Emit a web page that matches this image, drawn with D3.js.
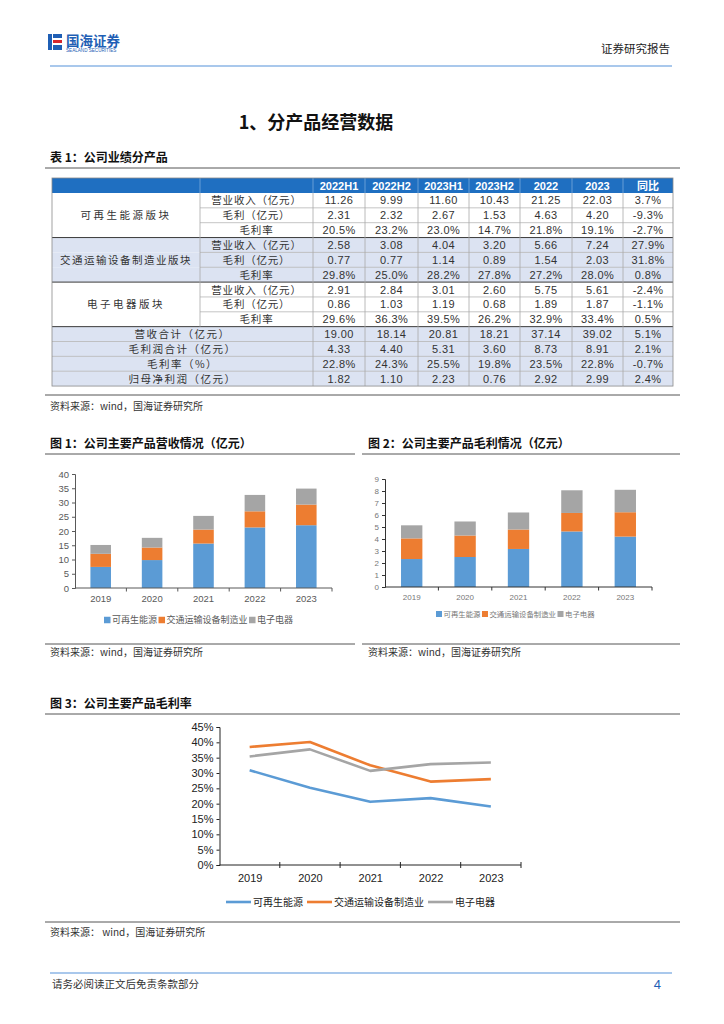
<!DOCTYPE html>
<html><head><meta charset="utf-8">
<script src="https://cdn.jsdelivr.net/npm/d3@7"></script>
<style>body{margin:0;background:#fff}svg{display:block}</style>
</head><body><svg id="c" width="724" height="1024"></svg>
<script>
// ---------------- DATA ----------------
const years = ["2019", "2020", "2021", "2022", "2023"];
const seriesNames = ["可再生能源", "交通运输设备制造业", "电子电器"];
const revRenew = [7.4, 9.8, 15.6, 21.25, 22.03];
const revTrans = [4.6, 4.4, 4.9, 5.66, 7.24];
const revElec = [3.1, 3.4, 4.8, 5.75, 5.61];
const gpRenew = [2.33, 2.50, 3.17, 4.63, 4.20];
const gpTrans = [1.72, 1.79, 1.62, 1.54, 2.03];
const gpElec = [1.09, 1.17, 1.42, 1.89, 1.87];
const gmRenew = [30.9, 25.2, 20.6, 21.8, 19.1];
const gmTrans = [38.5, 40.1, 32.5, 27.2, 28.0];
const gmElec = [35.4, 37.7, 30.7, 32.9, 33.4];
const revTicks = [0, 5, 10, 15, 20, 25, 30, 35, 40];
const gpTicks = [0, 1, 2, 3, 4, 5, 6, 7, 8, 9];
const gmTicks = [0, 5, 10, 15, 20, 25, 30, 35, 40, 45];

const tableCols = ["2022H1", "2022H2", "2023H1", "2023H2", "2022", "2023", "同比"];
const segmentNames = ["可再生能源版块", "交通运输设备制造业版块", "电子电器版块"];
const metricNames = ["营业收入（亿元）", "毛利（亿元）", "毛利率"];
const renewRows = [
  ["11.26", "9.99", "11.60", "10.43", "21.25", "22.03", "3.7%"],
  ["2.31", "2.32", "2.67", "1.53", "4.63", "4.20", "-9.3%"],
  ["20.5%", "23.2%", "23.0%", "14.7%", "21.8%", "19.1%", "-2.7%"]];
const transRows = [
  ["2.58", "3.08", "4.04", "3.20", "5.66", "7.24", "27.9%"],
  ["0.77", "0.77", "1.14", "0.89", "1.54", "2.03", "31.8%"],
  ["29.8%", "25.0%", "28.2%", "27.8%", "27.2%", "28.0%", "0.8%"]];
const elecRows = [
  ["2.91", "2.84", "3.01", "2.60", "5.75", "5.61", "-2.4%"],
  ["0.86", "1.03", "1.19", "0.68", "1.89", "1.87", "-1.1%"],
  ["29.6%", "36.3%", "39.5%", "26.2%", "32.9%", "33.4%", "0.5%"]];
const totalNames = ["营收合计（亿元）", "毛利润合计（亿元）", "毛利率（%）", "归母净利润（亿元）"];
const totalRows = [
  ["19.00", "18.14", "20.81", "18.21", "37.14", "39.02", "5.1%"],
  ["4.33", "4.40", "5.31", "3.60", "8.73", "8.91", "2.1%"],
  ["22.8%", "24.3%", "25.5%", "19.8%", "23.5%", "22.8%", "-0.7%"],
  ["1.82", "1.10", "2.23", "0.76", "2.92", "2.99", "2.4%"]];

// ---------------- STYLE ----------------
const CN = "'Noto Sans CJK SC','Noto Sans',sans-serif";
const LAT = "'Liberation Sans',Arial,sans-serif";
const colors = ["#5b9bd5", "#ed7d31", "#a5a5a5"];
const svg = d3.select("#c");
svg.append("rect").attr("width", 724).attr("height", 1024).attr("fill", "#fff");

function hline(x1, x2, y, color, w) {
  svg.append("line").attr("x1", x1).attr("x2", x2).attr("y1", y).attr("y2", y)
    .attr("stroke", color).attr("stroke-width", w);
}
function txt(x, y, s, size, opts = {}) {
  return svg.append("text").attr("x", x).attr("y", y).text(s)
    .attr("font-family", opts.font || CN).attr("font-size", size)
    .attr("font-weight", opts.bold ? "bold" : "normal")
    .attr("fill", opts.fill || "#222")
    .attr("text-anchor", opts.anchor || "start")
    .attr("letter-spacing", opts.ls || 0);
}

// ---------------- HEADER ----------------
const logo = svg.append("g");
logo.append("rect").attr("x", 48).attr("y", 34).attr("width", 4).attr("height", 16).attr("fill", "#1f5fb5");
logo.append("rect").attr("x", 53).attr("y", 34).attr("width", 9).attr("height", 4).attr("fill", "#1f5fb5");
logo.append("rect").attr("x", 53).attr("y", 40).attr("width", 9).attr("height", 3).attr("fill", "#d7262c");
logo.append("rect").attr("x", 53).attr("y", 45).attr("width", 9).attr("height", 5).attr("fill", "#1f5fb5");
txt(66, 46, "国海证券", 13.5, { bold: true, fill: "#1f5fb5" });
txt(66, 52, "SEALAND SECURITIES", 4.6, { font: LAT, fill: "#1f5fb5" });
txt(670, 53, "证券研究报告", 11.5, { anchor: "end", fill: "#222" });
hline(50, 672, 66, "#a9c8ec", 2);

txt(316, 129, "1、分产品经营数据", 18, { bold: true, anchor: "middle", fill: "#111" });

// ---------------- TABLE ----------------
txt(50, 162, "表 1：公司业绩分产品", 12, { bold: true, fill: "#111" });
hline(45, 680, 168, "#555", 1);

const colX = [52, 200, 313, 365, 418, 469, 520, 572, 623, 673];
const headTop = 178, top0 = 193, rowH = 14.85;
const light = "#dce3f2";
const tg = svg.append("g");
// header
tg.append("rect").attr("x", colX[0]).attr("y", headTop).attr("width", colX[9] - colX[0]).attr("height", top0 - headTop).attr("fill", "#1f6fc1");
tableCols.forEach((c, i) => {
  const cx = (colX[i + 2] + colX[i + 3]) / 2;
  tg.append("text").attr("x", cx).attr("y", top0 - 3.5).attr("text-anchor", "middle")
    .attr("font-family", i === 6 ? CN : LAT).attr("font-weight", "bold").attr("font-size", 11).attr("fill", "#fff").text(c);
});
for (let i = 1; i < 9; i++) {
  tg.append("line").attr("x1", colX[i]).attr("x2", colX[i]).attr("y1", headTop).attr("y2", top0).attr("stroke", "#7aa9dc").attr("stroke-width", 0.8);
}
const segRows = [renewRows, transRows, elecRows];
const allRows = [];
segRows.forEach((rows, s) => rows.forEach((vals, m) => allRows.push({ seg: s, metric: m, vals, fill: s === 1 ? light : "#fff" })));
totalRows.forEach((vals, t) => allRows.push({ total: t, vals, fill: light }));
allRows.forEach((r, i) => {
  const y = top0 + i * rowH;
  tg.append("rect").attr("x", colX[0]).attr("y", y).attr("width", colX[9] - colX[0]).attr("height", rowH).attr("fill", r.fill);
});
// text
allRows.forEach((r, i) => {
  const y = top0 + i * rowH + rowH / 2 + 4;
  if (r.total === undefined) {
    tg.append("text").attr("x", (colX[1] + colX[2]) / 2).attr("y", y).attr("text-anchor", "middle")
      .attr("font-family", CN).attr("font-size", 10.5).attr("fill", "#333").attr("letter-spacing", 0.8).text(metricNames[r.metric]);
  } else {
    tg.append("text").attr("x", (colX[0] + colX[2]) / 2).attr("y", y).attr("text-anchor", "middle")
      .attr("font-family", CN).attr("font-size", 10.5).attr("fill", "#333").attr("letter-spacing", 1.5).text(totalNames[r.total]);
  }
  r.vals.forEach((v, j) => {
    tg.append("text").attr("x", (colX[j + 2] + colX[j + 3]) / 2).attr("y", y).attr("text-anchor", "middle")
      .attr("font-family", LAT).attr("font-size", 11).attr("fill", "#333").attr("letter-spacing", 0.4).text(v);
  });
});
segmentNames.forEach((n, s) => {
  const y = top0 + (s * 3 + 1.5) * rowH + 4;
  tg.append("text").attr("x", (colX[0] + colX[1]) / 2).attr("y", y).attr("text-anchor", "middle")
    .attr("font-family", CN).attr("font-size", 10.5).attr("fill", "#333").attr("letter-spacing", s === 1 ? 1.5 : 2.5).text(n);
});
// lines
const nRows = allRows.length;
for (let i = 1; i < nRows; i++) {
  const y = top0 + i * rowH;
  if (i % 3 === 0 && i <= 9) {
    tg.append("line").attr("x1", colX[0]).attr("x2", colX[9]).attr("y1", y).attr("y2", y).attr("stroke", "#3a3a3a").attr("stroke-width", 1);
  } else if (i < 9) {
    tg.append("line").attr("x1", colX[1]).attr("x2", colX[9]).attr("y1", y).attr("y2", y).attr("stroke", "#b5b5b5").attr("stroke-width", 0.8);
  } else {
    tg.append("line").attr("x1", colX[0]).attr("x2", colX[9]).attr("y1", y).attr("y2", y).attr("stroke", "#b5b5b5").attr("stroke-width", 0.8);
  }
}
const tableBottom = top0 + nRows * rowH;
for (let i = 1; i < 9; i++) {
  const yEnd = i === 1 ? top0 + 9 * rowH : tableBottom;
  tg.append("line").attr("x1", colX[i]).attr("x2", colX[i]).attr("y1", top0).attr("y2", yEnd).attr("stroke", "#a8a8a8").attr("stroke-width", 0.8);
}
tg.append("rect").attr("x", colX[0]).attr("y", headTop).attr("width", colX[9] - colX[0]).attr("height", tableBottom - headTop)
  .attr("fill", "none").attr("stroke", "#8a8a8a").attr("stroke-width", 0.8);

hline(45, 680, 395, "#555", 1);
txt(50, 410, "资料来源：wind，国海证券研究所", 10, { fill: "#333" });

// ---------------- BAR CHARTS ----------------
txt(50, 448, "图 1：公司主要产品营收情况（亿元）", 12, { bold: true, fill: "#111" });
hline(45, 355, 454, "#555", 1);
txt(368, 448, "图 2：公司主要产品毛利情况（亿元）", 12, { bold: true, fill: "#111" });
hline(362, 680, 454, "#555", 1);

function barChart(cfg) {
  const g = svg.append("g");
  const rows = years.map((yr, i) => ({ year: yr, a: cfg.a[i], b: cfg.b[i], c: cfg.c[i] }));
  const stacked = d3.stack().keys(["a", "b", "c"])(rows);
  const x = d3.scaleBand().domain(years).range([cfg.x0, cfg.x1]).paddingInner(0.6).paddingOuter(0.3);
  const y = d3.scaleLinear().domain([0, cfg.max]).range([cfg.y0, cfg.yTop]);
  stacked.forEach((layer, k) => {
    g.append("g").selectAll("rect").data(layer).join("rect")
      .attr("x", d => x(d.data.year)).attr("width", x.bandwidth())
      .attr("y", d => y(d[1])).attr("height", d => y(d[0]) - y(d[1]))
      .attr("fill", colors[k]);
  });
  const ya = g.append("g").attr("transform", `translate(${cfg.x0},0)`)
    .call(d3.axisLeft(y).tickValues(cfg.ticks).tickSize(3).tickPadding(3).tickFormat(d3.format("d")));
  ya.select(".domain").attr("stroke", cfg.axis);
  ya.selectAll(".tick line").attr("stroke", cfg.axis);
  ya.selectAll("text").attr("font-family", LAT).attr("font-size", cfg.fs).attr("fill", cfg.tc);
  const xa = g.append("g").attr("transform", `translate(0,${cfg.y0})`)
    .call(d3.axisBottom(x).tickSize(0).tickPadding(cfg.xpad));
  xa.select(".domain").remove();
  xa.selectAll("text").attr("font-family", LAT).attr("font-size", cfg.fs).attr("fill", cfg.tc);
  g.append("line").attr("x1", cfg.x0).attr("x2", cfg.x1).attr("y1", cfg.y0).attr("y2", cfg.y0).attr("stroke", cfg.axis);
  years.forEach((yr, i) => {
    const bx = x(yr) - x.step() * x.paddingInner() / 2 + x.step();
    g.append("line").attr("x1", bx).attr("x2", bx).attr("y1", cfg.y0).attr("y2", cfg.y0 + 3.5).attr("stroke", cfg.axis);
  });
  // legend
  let lx = cfg.lx;
  seriesNames.forEach((n, k) => {
    g.append("rect").attr("x", lx).attr("y", cfg.ly - cfg.sq / 2).attr("width", cfg.sq).attr("height", cfg.sq).attr("fill", colors[k]);
    const t = g.append("text").attr("x", lx + cfg.sq + 1.5).attr("y", cfg.ly + cfg.lfs * 0.36).text(n)
      .attr("font-family", CN).attr("font-size", cfg.lfs).attr("fill", cfg.tc);
    lx += cfg.sq + 1.5 + t.node().getComputedTextLength() + 1.5;
  });
}
barChart({ a: revRenew, b: revTrans, c: revElec, x0: 75, x1: 332, y0: 588, yTop: 474, max: 40, ticks: revTicks,
  axis: "#595959", tc: "#595959", fs: 9.5, xpad: 7, lx: 104, ly: 620, sq: 6.5, lfs: 9 });
barChart({ a: gpRenew, b: gpTrans, c: gpElec, x0: 385, x1: 652, y0: 587, yTop: 479, max: 9, ticks: gpTicks,
  axis: "#333", tc: "#777", fs: 8, xpad: 7, lx: 436, ly: 614, sq: 6, lfs: 7.4 });

hline(45, 355, 644, "#555", 1);
hline(362, 680, 644, "#555", 1);
txt(50, 656, "资料来源：wind，国海证券研究所", 10, { fill: "#333" });
txt(368, 656, "资料来源：wind，国海证券研究所", 10, { fill: "#333" });

// ---------------- LINE CHART ----------------
txt(50, 708, "图 3：公司主要产品毛利率", 12, { bold: true, fill: "#111" });
hline(45, 680, 714, "#555", 1);
(function () {
  const g = svg.append("g");
  const x0 = 219.5, x1 = 521, y0 = 865, yTop = 727;
  const x = d3.scalePoint().domain(years).range([x0, x1]).padding(0.5);
  const y = d3.scaleLinear().domain([0, 45]).range([y0, yTop]);
  const ya = g.append("g").attr("transform", `translate(${x0},0)`)
    .call(d3.axisLeft(y).tickValues(gmTicks).tickSize(3).tickPadding(3).tickFormat(d => d + "%"));
  ya.select(".domain").attr("stroke", "#222");
  ya.selectAll(".tick line").attr("stroke", "#222");
  ya.selectAll("text").attr("font-family", LAT).attr("font-size", 11).attr("fill", "#222");
  const xa = g.append("g").attr("transform", `translate(0,${y0})`).call(d3.axisBottom(x).tickSize(0).tickPadding(9));
  xa.select(".domain").remove();
  xa.selectAll("text").attr("font-family", LAT).attr("font-size", 11).attr("fill", "#222");
  g.append("line").attr("x1", x0).attr("x2", x1).attr("y1", y0).attr("y2", y0).attr("stroke", "#222");
  years.forEach(yr => {
    const bx = x(yr) + x.step() / 2;
    g.append("line").attr("x1", bx).attr("x2", bx).attr("y1", y0 - 3).attr("y2", y0 + 3).attr("stroke", "#222");
  });
  const line = d3.line().x((d, i) => x(years[i])).y(d => y(d));
  [gmRenew, gmTrans, gmElec].forEach((s, k) => {
    g.append("path").attr("d", line(s)).attr("fill", "none").attr("stroke", colors[k]).attr("stroke-width", 2.6).attr("stroke-linejoin", "round");
  });
  let lx = 226;
  const ly = 902;
  seriesNames.forEach((n, k) => {
    g.append("line").attr("x1", lx).attr("x2", lx + 25).attr("y1", ly).attr("y2", ly).attr("stroke", colors[k]).attr("stroke-width", 2.6);
    const t = g.append("text").attr("x", lx + 27).attr("y", ly + 3.6).text(n).attr("font-family", CN).attr("font-size", 10).attr("fill", "#222");
    lx += 27 + t.node().getComputedTextLength() + 4;
  });
})();
hline(45, 680, 922, "#555", 1);
txt(50, 936, "资料来源：  wind，国海证券研究所", 10, { fill: "#333" });

// ---------------- FOOTER ----------------
hline(50, 672, 973, "#a9c8ec", 2);
txt(52, 988, "请务必阅读正文后免责条款部分", 10.5, { fill: "#333" });
txt(661, 989, "4", 13, { font: LAT, fill: "#1f5fb5", anchor: "end" });
</script></body></html>
